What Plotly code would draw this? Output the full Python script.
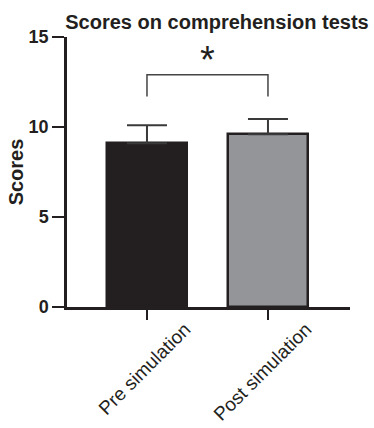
import plotly.graph_objects as go

categories = ["Pre simulation", "Post simulation"]
means = [9.1, 9.6]
errors_up = [1.0, 0.85]
bar_colors = ["#231f20", "#939598"]
y_ticks = [0, 5, 10, 15]
title_text = "Scores on comprehension tests"
y_title = "Scores"
sig_label = "*"
bracket_top = 12.9
bracket_leg = 11.7

FONT = "Liberation Sans, Arial, Helvetica, sans-serif"
DARK = "#231f20"

fig = go.Figure()
fig.add_trace(go.Bar(
    x=categories, y=means, width=0.66,
    marker=dict(color=bar_colors, line=dict(color=DARK, width=2.5)),
    error_y=dict(type="data", symmetric=False, array=errors_up, arrayminus=[0, 0],
                 color="#3a3a3a", thickness=2, width=20),
    showlegend=False, hoverinfo="skip",
))
# significance bracket between the two bars
fig.add_trace(go.Scatter(
    x=[categories[0], categories[0], categories[1], categories[1]],
    y=[bracket_leg, bracket_top, bracket_top, bracket_leg],
    mode="lines", line=dict(color="#444444", width=1.5),
    showlegend=False, hoverinfo="skip", cliponaxis=False,
))
fig.add_annotation(x=0.5, y=bracket_top + 0.85, xref="x", yref="y", text=sig_label,
                   showarrow=False, font=dict(family=FONT, size=38, color=DARK),
                   xanchor="center", yanchor="middle")

fig.update_layout(
    template="none",
    width=374, height=428,
    margin=dict(l=67, r=24, t=37, b=121, autoexpand=False),
    paper_bgcolor="white", plot_bgcolor="white",
    font=dict(family=FONT, color=DARK),
    title=dict(text="<b>" + title_text + "</b>", x=217 / 374, xref="container", xanchor="center",
               y=1 - 22 / 428, yref="container", yanchor="middle",
               font=dict(family=FONT, size=20, color=DARK)),
    bargap=0,
)
fig.update_xaxes(
    type="category", range=[-0.661, 1.678], automargin=False,
    showline=True, linecolor=DARK, linewidth=2.5, showgrid=False, zeroline=False,
    ticks="outside", ticklen=10, tickwidth=2, tickcolor=DARK,
    tickangle=-45, tickfont=dict(family=FONT, size=19, color=DARK),
    ticklabelshift=38, ticklabelstandoff=-9,
)
fig.update_yaxes(
    range=[0, 15], tickvals=y_ticks, ticktext=["<b>%d</b>" % v for v in y_ticks],
    automargin=False,
    showline=True, linecolor=DARK, linewidth=2.5, showgrid=False, zeroline=False,
    ticks="outside", ticklen=12, tickwidth=2, tickcolor=DARK,
    tickfont=dict(family=FONT, size=18, color=DARK),
    title=dict(text="<b>" + y_title + "</b>", font=dict(family=FONT, size=20, color=DARK), standoff=0),
)

fig.write_html("out.html", config={"displayModeBar": False},
               post_script="document.body.style.margin='0px';")
